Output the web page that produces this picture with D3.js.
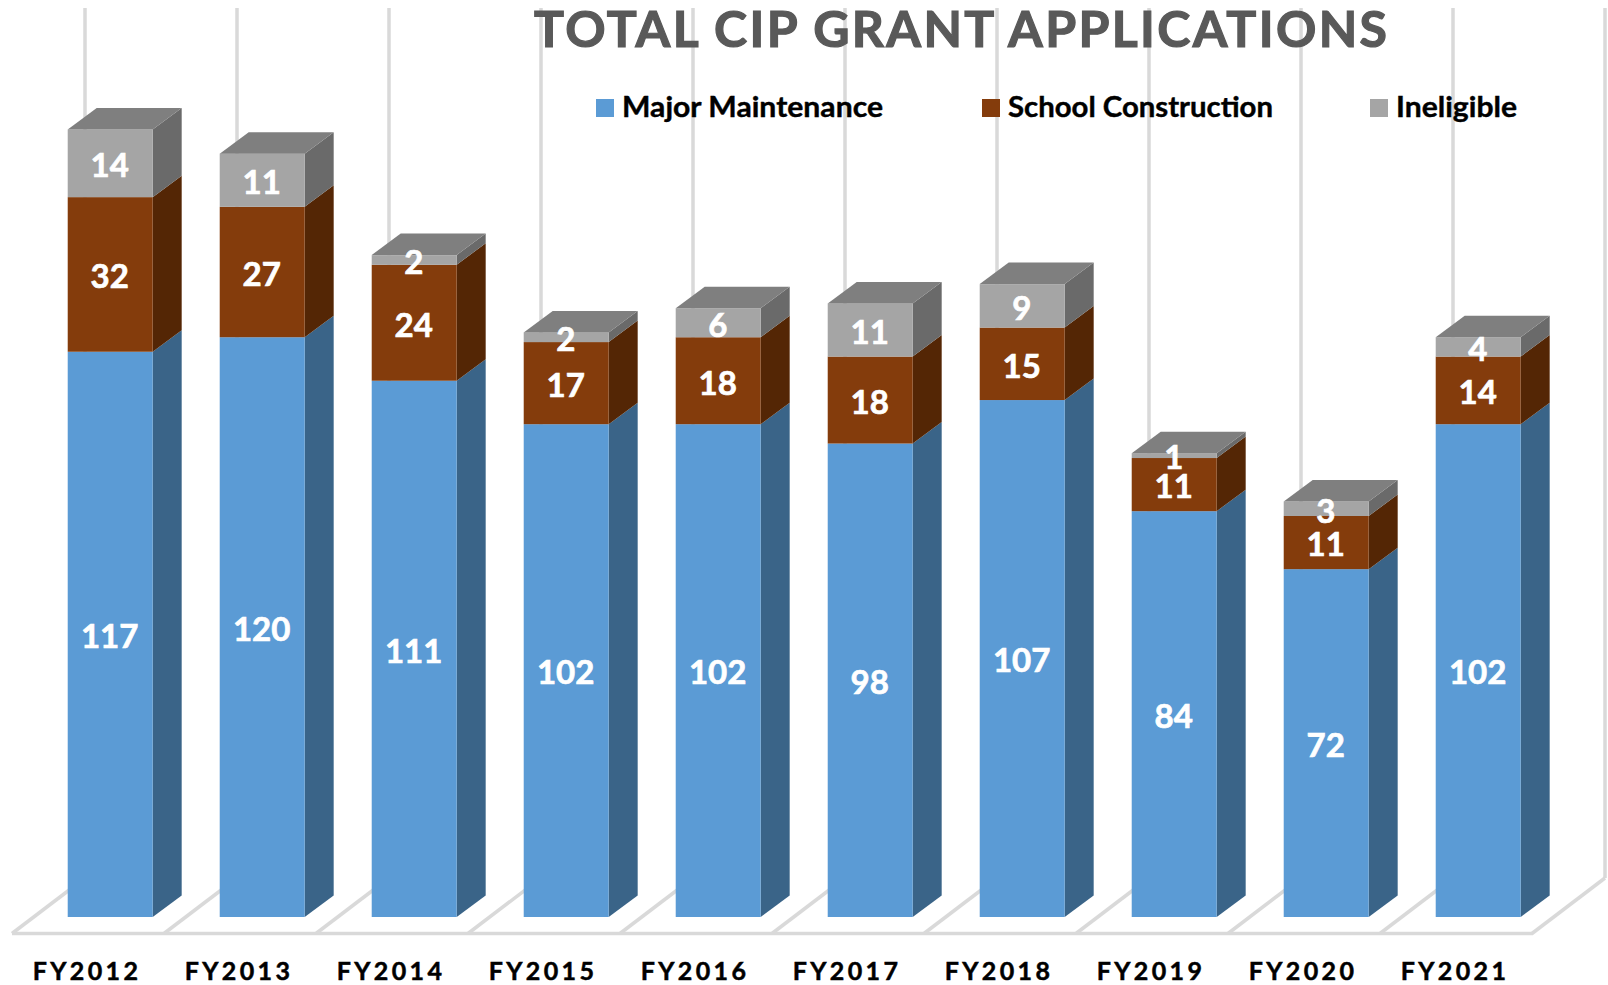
<!DOCTYPE html>
<html>
<head>
<meta charset="utf-8">
<title>Total CIP Grant Applications</title>
<script src="https://cdn.jsdelivr.net/npm/d3@7"></script>
<style>
html, body { margin: 0; padding: 0; background: #fff; }
svg { display: block; }
text { font-family: Lato, "Open Sans", sans-serif; font-weight: 700; }
</style>
</head>
<body>
<div id="chart"></div>
<script>
var years = ["FY2012", "FY2013", "FY2014", "FY2015", "FY2016", "FY2017", "FY2018", "FY2019", "FY2020", "FY2021"];
var majorMaintenance = [117, 120, 111, 102, 102, 98, 107, 84, 72, 102];
var schoolConstruction = [32, 27, 24, 17, 18, 18, 15, 11, 11, 14];
var ineligible = [14, 11, 2, 2, 6, 11, 9, 1, 3, 4];
var seriesNames = ["Major Maintenance", "School Construction", "Ineligible"];

var width = 1608, height = 985;
var depthX = 29, depthY = 21.5;

var frontColors = ["#5b9bd5", "#843c0c", "#a5a5a5"];
var sideColors = ["#3a6488", "#542605", "#6a6a6a"];
var topColor = "#7f7f7f";
var gridColor = "#d9d9d9";

var svg = d3.select("#chart").append("svg")
    .attr("width", width)
    .attr("height", height);

var rows = years.map(function(d, i) {
    return {
        year: d,
        "Major Maintenance": majorMaintenance[i],
        "School Construction": schoolConstruction[i],
        "Ineligible": ineligible[i]
    };
});
var stacked = d3.stack().keys(seriesNames)(rows);

// bars
var x = d3.scaleBand()
    .domain(years)
    .range([34.2, 1554.2])
    .paddingInner(0.441)
    .paddingOuter(0.2205);

var y = d3.scaleLinear()
    .domain([0, 163])
    .range([917, 129.5]);

// the front edge of the floor, also carries the year labels
var xFloor = d3.scaleBand()
    .domain(years)
    .range([12, 1532]);

// Gridlines sit on the back wall
var floorY = 933.5;
var backY = floorY - 55.5;
var gridX = d3.range(years.length + 1).map(function(i) {
    return (i < years.length ? xFloor(years[i]) : 1532) + 73;
});

svg.append("g").selectAll("line")
    .data(gridX)
    .enter()
    .append("line")
    .attr("x1", d => d)
    .attr("x2", d => d)
    .attr("y1", 8)
    .attr("y2", backY)
    .attr("stroke", gridColor)
    .attr("stroke-width", 3.5);

svg.append("g").selectAll("line")
    .data(gridX)
    .enter()
    .append("line")
    .attr("x1", d => d)
    .attr("x2", d => d - 73)
    .attr("y1", backY)
    .attr("y2", floorY)
    .attr("stroke", gridColor)
    .attr("stroke-width", 3.5);

svg.append("line")
    .attr("x1", 12)
    .attr("x2", 1533)
    .attr("y1", floorY)
    .attr("y2", floorY)
    .attr("stroke", gridColor)
    .attr("stroke-width", 3.5);

// Add the 3D faces, bottom segment first
var w = x.bandwidth();
var barGroups = svg.append("g").selectAll("g")
    .data(years)
    .enter()
    .append("g");

barGroups.each(function(year, i) {
    var g = d3.select(this);
    stacked.forEach(function(series, s) {
        var y0 = y(series[i][0]), y1 = y(series[i][1]);
        var left = x(year), right = left + w;
        g.append("polygon")
            .attr("points", [
                [right, y0], [right, y1],
                [right + depthX, y1 - depthY], [right + depthX, y0 - depthY]
            ].join(" "))
            .attr("fill", sideColors[s]);
        g.append("rect")
            .attr("x", left)
            .attr("y", y1)
            .attr("width", w)
            .attr("height", y0 - y1)
            .attr("fill", frontColors[s]);
    });
    var top = y(stacked[2][i][1]);
    g.append("polygon")
        .attr("points", [
            [x(year), top], [x(year) + w, top],
            [x(year) + w + depthX, top - depthY], [x(year) + depthX, top - depthY]
        ].join(" "))
        .attr("fill", topColor);
});

// value labels go last so the top faces never cover them
stacked.forEach(function(series) {
    svg.append("g").selectAll("text")
        .data(series)
        .enter()
        .append("text")
        .attr("x", d => x(d.data.year) + w / 2 - 0.5)
        .attr("y", d => (y(d[0]) + y(d[1])) / 2 + 2)
        .attr("dy", "0.36em")
        .attr("text-anchor", "middle")
        .attr("fill", "#fff")
        .attr("stroke", "#fff")
        .attr("stroke-width", 0.7)
        .style("font-size", "33px")
        .text(d => d[1] - d[0]);
});

var axis = svg.append("g")
    .attr("transform", "translate(-1,980)")
    .call(d3.axisBottom(xFloor).tickSize(0).tickPadding(0));
axis.select(".domain").remove();
axis.selectAll("text")
    .attr("y", 0)
    .attr("dy", 0)
    .attr("fill", "#000")
    .attr("stroke", "#000")
    .attr("stroke-width", 0.5)
    .style("font-family", "Lato, sans-serif")
    .style("font-size", "25px")
    .style("letter-spacing", "3.4px");

// Add title
svg.append("text")
    .attr("x", 534)
    .attr("y", 47)
    .attr("textLength", 853)
    .attr("fill", "#595959")
    .attr("stroke", "#595959")
    .attr("stroke-width", 1.2)
    .style("font-size", "50px")
    .text("TOTAL CIP GRANT APPLICATIONS");

// Legend
var legendSquareX = [596, 982, 1370];
var legendTextWidth = [261, 265, 121];

var legend = svg.append("g").selectAll("g")
    .data(seriesNames)
    .enter()
    .append("g");

legend.append("rect")
    .attr("x", (d, i) => legendSquareX[i])
    .attr("y", 99)
    .attr("width", 18)
    .attr("height", 18)
    .attr("fill", (d, i) => frontColors[i]);

legend.append("text")
    .attr("x", (d, i) => legendSquareX[i] + 26)
    .attr("y", 117)
    .attr("textLength", (d, i) => legendTextWidth[i])
    .attr("lengthAdjust", "spacingAndGlyphs")
    .attr("fill", "#000")
    .attr("stroke", "#000")
    .attr("stroke-width", 0.4)
    .style("font-size", "28px")
    .text(d => d);
</script>
</body>
</html>
